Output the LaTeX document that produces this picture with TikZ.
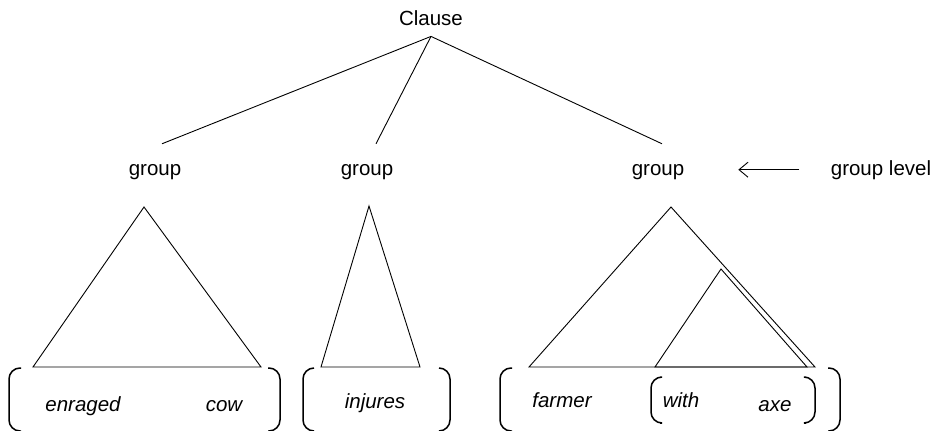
\documentclass[tikz,border=0pt]{standalone}
\usepackage{fontspec}
\setmainfont{Liberation Sans}
\usepackage{tikz}
\usetikzlibrary{arrows.meta, positioning}

\begin{document}
\begin{tikzpicture}[
      x=1pt, y=-1pt,
      lab/.style  ={anchor=base, font=\fontsize{20.5}{24}\selectfont},
      word/.style ={anchor=base, font=\fontsize{20.5}{24}\selectfont\itshape},
      grp/.style  ={lab, inner ysep=20pt},
      edge/.style ={line width=0.9pt},
      brak/.style ={line width=1.5pt, rounded corners=11pt},
      >={Straight Barb[length=9pt, width=15pt]}
    ]
    \useasboundingbox (0,0) rectangle (940,431);

    % Satz und Gruppen
    \node[lab, inner ysep=11pt] (cl) at (431,25) {Clause};
    \node[grp] (g1) at (155,175) {group};
    \node[grp] (g2) at (367,175) {group};
    \node[grp] (g3) at (658,175) {group};
    \draw[edge] (cl.south) -- ([xshift=7pt]g1.north);
    \draw[edge] (cl.south) -- ([xshift=9pt]g2.north);
    \draw[edge] (cl.south) -- ([xshift=4pt]g3.north);

    % Ebene
    \node[lab] (lvl) at (881,175) {group level};
    \coordinate[left=89pt of lvl.west] (tip);
    \draw[edge, ->, shorten <=28pt] (lvl.west) -- (tip);

    % Dreiecke
    \draw[edge] (144,207) -- (33,367) -- (261,367) -- cycle;
    \draw[edge] (369,206) -- (321,367) -- (420,367) -- cycle;
    \draw[edge] (671,207) -- (529,367) -- (815,367) -- cycle;
    \draw[edge] (721,269) -- (655,367) -- (807,367) -- cycle;

    % Woerter
    \node[word] (w1) at (83,411)  {enraged};
    \node[word] (w2) at (224,411) {cow};
    \node[word] (w3) at (375,408) {injures};
    \node[word] (w4) at (562,407) {farmer};
    \node[word] (w5) at (681,407) {with};
    \node[word] (w6) at (775,411) {axe};

    % Klammern
    \draw[brak] (21,368) -- (9,368) -- (9,431) -- (21,431);
    \draw[brak] (268,368) -- (280,368) -- (280,431) -- (268,431);
    \draw[brak] (314,368) -- (303,368) -- (303,431) -- (314,431);
    \draw[brak] (439,368) -- (450,368) -- (450,431) -- (439,431);
    \draw[brak] (512,368) -- (500,368) -- (500,431) -- (512,431);
    \draw[brak] (828,368) -- (840,368) -- (840,431) -- (828,431);
    \draw[brak] (660,377) -- (651,377) -- (651,423) -- (660,423);
    \draw[brak] (806,377) -- (815,377) -- (815,423) -- (806,423);

  \end{tikzpicture}
\end{document}
